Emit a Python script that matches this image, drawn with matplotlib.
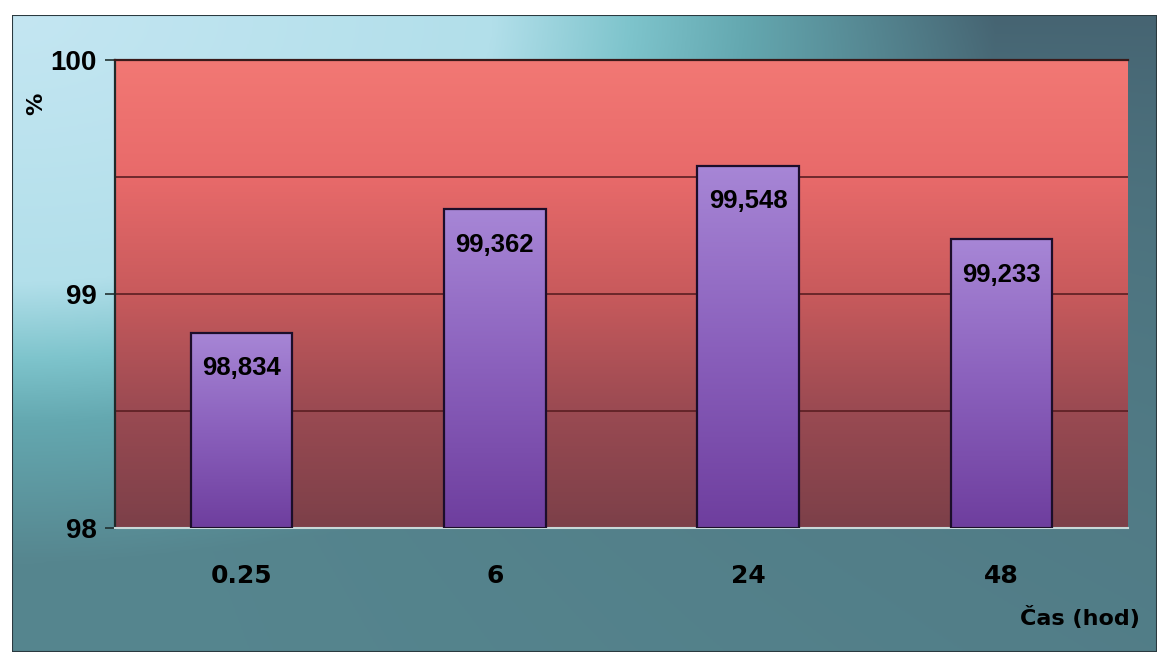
import numpy as np
import matplotlib.pyplot as plt
from matplotlib.colors import LinearSegmentedColormap, to_rgb

hours = ["0.25", "6", "24", "48"]
yields = [98.834, 99.362, 99.548, 99.233]
bar_labels = ["98,834", "99,362", "99,548", "99,233"]
y_ticks = [98, 99, 100]
y_grid = [98.5, 99.0, 99.5]

W, H, DPI = 1157, 652, 100
fig = plt.figure(figsize=(W / DPI, H / DPI), dpi=DPI)
fig.patch.set_facecolor("white")

# outer panel: light blue around the top-left corner, teal further out,
# slate on the right and grey-teal along the bottom
bg = fig.add_axes([12 / W, 0, 1 - 12 / W, 1 - 15 / H])
bg.set_axis_off()
ny, nx = 200, 400
yy, xx = np.mgrid[0:1:ny * 1j, 0:1:nx * 1j]
d = np.sqrt(xx ** 2 + yy ** 2)
stops = [0.0, 0.42, 0.54, 0.64]
near = np.array([to_rgb(c) for c in ["#c4e6f2", "#b2dfea", "#7ec4cc", "#64a8b0"]])
far_bottom = np.array(to_rgb("#56868f"))
far_right = np.array(to_rgb("#466472"))
w_right = (xx / (xx + yy + 1e-6)) ** 2
far = far_bottom * (1 - w_right[..., None]) + far_right * w_right[..., None]
img = np.zeros((ny, nx, 3))
for ch in range(3):
    img[:, :, ch] = np.interp(d, stops, near[:, ch])
t = np.clip((d - stops[-1]) / 0.22, 0, 1)[..., None]
img = np.where(d[..., None] > stops[-1], near[-1] * (1 - t) + far * t, img)
bg.imshow(img, extent=[0, 1, 0, 1], aspect="auto", transform=bg.transAxes)
frame = plt.Rectangle((0, 0), 1, 1, transform=bg.transAxes, fill=False,
                      edgecolor="#2a3a40", lw=1.5)
bg.add_patch(frame)

ax = fig.add_axes([115 / W, 1 - 528 / H, (1128 - 115) / W, (528 - 60) / H])
ax.patch.set_visible(False)
x = np.arange(len(hours))
ax.set_xlim(-0.5, len(hours) - 0.5)
ax.set_ylim(98, 100)

# plot area: salmon red at the top darkening to maroon at the bottom
plot_cmap = LinearSegmentedColormap.from_list(
    "plot", ["#7c4049", "#9a4a52", "#c85a5c", "#e86a6a", "#f27874"])
grad = np.linspace(0, 1, 256)[:, None]
ax.imshow(grad, cmap=plot_cmap, origin="lower", aspect="auto",
          extent=[-0.5, len(hours) - 0.5, 98, 100], zorder=0)

for g in y_grid:
    ax.axhline(g, color="#5a1e22", lw=1.2, zorder=1)

bar_cmap = LinearSegmentedColormap.from_list("bar", ["#6e3e9e", "#8a60bc", "#a786d6"])
bars = ax.bar(x, [v - 98 for v in yields], bottom=98, width=0.4,
              color="none", edgecolor="#1c0e2a", lw=1.6, zorder=3)
for b, lab in zip(bars, bar_labels):
    x0, w = b.get_x(), b.get_width()
    y0, h = b.get_y(), b.get_height()
    im = ax.imshow(grad, cmap=bar_cmap, origin="lower", aspect="auto",
                   extent=[x0, x0 + w, y0, y0 + h], zorder=2)
    im.set_clip_path(b)
    ax.text(x0 + w / 2, y0 + h - 0.1, lab, ha="center", va="top",
            fontsize=18.5, fontweight="bold", family="Liberation Sans",
            color="black", zorder=4)

ax.set_xlim(-0.5, len(hours) - 0.5)
ax.set_ylim(98, 100)
ax.set_yticks(y_ticks)
ax.set_yticklabels([str(t) for t in y_ticks], fontsize=20, fontweight="bold",
                   family="Liberation Sans")
ax.set_xticks(x)
ax.set_xticklabels(hours, fontsize=18, fontweight="bold", family="DejaVu Sans")
ax.tick_params(axis="y", length=7, width=1.2, color="#203030", pad=6)
ax.tick_params(axis="x", length=0, pad=26)

ax.spines["left"].set_color("#1e2a2a")
ax.spines["left"].set_linewidth(1.6)
ax.spines["top"].set_color("#3a1a1a")
ax.spines["top"].set_linewidth(1.6)
ax.spines["right"].set_visible(False)
ax.spines["bottom"].set_color("#c8d8d8")
ax.spines["bottom"].set_linewidth(1.5)

fig.text(36 / W, 1 - 104 / H, "%", rotation=90, ha="center", va="center",
         fontsize=16, fontweight="bold", family="DejaVu Sans")
fig.text(1140 / W, 1 - 617 / H, "Čas (hod)", ha="right", va="center",
         fontsize=16, fontweight="bold", family="DejaVu Sans")

fig.savefig("out.png", dpi=DPI)
